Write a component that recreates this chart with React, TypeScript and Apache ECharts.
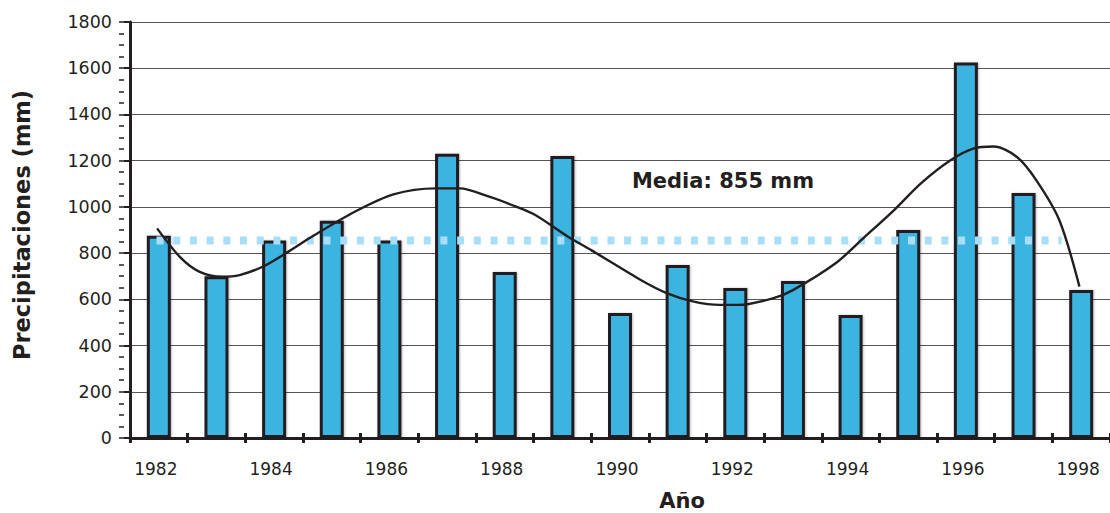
import React, { useEffect, useRef } from "react";
import * as echarts from "echarts";

// Annual precipitation, 1982–1998
const YEARS = [
  "1982", "1983", "1984", "1985", "1986", "1987", "1988", "1989", "1990",
  "1991", "1992", "1993", "1994", "1995", "1996", "1997", "1998",
];
const PRECIP = [
  875, 700, 855, 940, 855, 1230, 718, 1220, 541, 749, 649, 679, 532, 900, 1625, 1060, 640,
];
const MEAN = 855;
// span of the mean line, in years
const MEAN_FROM = 1981.96;
const MEAN_TO = 1997.66;
// smoothed trend [year, mm]
const TREND: [number, number][] = [
  [1981.97, 907], [1982.36, 785], [1982.7, 720], [1983.1, 698], [1983.4, 705],
  [1983.8, 741], [1984.2, 799], [1984.7, 878], [1985.4, 979], [1986.07, 1054],
  [1986.8, 1080], [1987.22, 1080], [1987.73, 1044], [1988.2, 1001], [1988.53, 965],
  [1989.1, 871], [1989.5, 813], [1990.36, 684], [1990.82, 626], [1991.28, 590],
  [1991.73, 576], [1992.05, 576], [1992.65, 604], [1993.0, 640], [1993.74, 756],
  [1994.25, 871], [1994.75, 985], [1995.22, 1102], [1995.74, 1203], [1996.14, 1253],
  [1996.48, 1261], [1996.88, 1217], [1997.22, 1116], [1997.62, 943], [1997.97, 655],
];
const Y_MIN = 0;
const Y_MAX = 1800;
const Y_STEP = 200;

const INK = "#231F20";
const BAR_BLUE = "#3BB4DF";
const MEAN_BLUE = "#A9DEF8";
const FONT = "'DejaVu Sans', sans-serif";

// the first category starts half a year before its label
const yearToBand = (y: number) => y - (Number(YEARS[0]) - 0.5);

const GRID_LEFT = 130;
const GRID_TOP = 22;
const GRID_WIDTH = 991;
const GRID_HEIGHT = 416;

export default function App() {
  const ref = useRef<HTMLDivElement>(null);

  useEffect(() => {
    if (!ref.current) return;
    const chart = echarts.init(ref.current, null, { renderer: "svg" });
    chart.setOption({
      animation: false,
      backgroundColor: "#ffffff",
      grid: {
        left: GRID_LEFT,
        top: GRID_TOP,
        width: GRID_WIDTH,
        height: GRID_HEIGHT,
        containLabel: false,
      },
      xAxis: [
        {
          type: "category",
          data: YEARS,
          boundaryGap: true,
          axisLine: { show: true, lineStyle: { color: INK, width: 3 } },
          axisTick: { show: true, interval: 0, length: 5, lineStyle: { color: INK, width: 3 } },
          axisLabel: {
            interval: 1,
            color: INK,
            fontFamily: FONT,
            fontSize: 17,
            margin: 22,
            padding: [0, 6, 0, 0],
          },
          splitLine: { show: false },
        },
        {
          // band boundaries, ticks pointing up into the plot
          type: "value",
          min: 0,
          max: YEARS.length,
          interval: 1,
          position: "top",
          offset: -GRID_HEIGHT,
          axisLine: { show: false },
          axisTick: { show: true, length: 5, lineStyle: { color: INK, width: 3 } },
          axisLabel: { show: false },
          splitLine: { show: false },
        },
      ],
      yAxis: [
        {
          type: "value",
          min: Y_MIN,
          max: Y_MAX,
          interval: Y_STEP,
          axisLine: { show: true, lineStyle: { color: INK, width: 3 } },
          axisTick: { show: true, length: 6, lineStyle: { color: INK, width: 2 } },
          axisLabel: {
            color: INK,
            fontFamily: FONT,
            fontSize: 17.5,
            margin: 18,
            formatter: (v: number) => String(v),
          },
          splitLine: { show: true, lineStyle: { color: "#555555", width: 1 } },
        },
        {
          // minor ticks on the inner side of the left axis
          type: "value",
          min: Y_MIN,
          max: Y_MAX,
          interval: Y_STEP / 4,
          position: "right",
          offset: -GRID_WIDTH,
          axisLine: { show: false },
          axisTick: { show: true, length: 5, lineStyle: { color: INK, width: 1.5 } },
          axisLabel: { show: false },
          splitLine: { show: false },
        },
      ],
      series: [
        {
          type: "bar",
          xAxisIndex: 0,
          yAxisIndex: 0,
          data: PRECIP,
          barWidth: 24,
          itemStyle: {
            color: BAR_BLUE,
            borderColor: INK,
            borderWidth: 3,
            shadowColor: "rgba(0,0,0,0.25)",
            shadowBlur: 2,
            shadowOffsetX: 1,
          },
          z: 2,
        },
        {
          type: "line",
          xAxisIndex: 1,
          yAxisIndex: 0,
          data: [
            [yearToBand(MEAN_FROM), MEAN],
            [yearToBand(MEAN_TO), MEAN],
          ],
          symbol: "none",
          lineStyle: { color: MEAN_BLUE, width: 8, type: [7, 9.7], cap: "butt" },
          z: 3,
        },
        {
          type: "line",
          xAxisIndex: 1,
          yAxisIndex: 0,
          data: TREND.map(([y, v]) => [yearToBand(y), v]),
          symbol: "none",
          smooth: 0.3,
          lineStyle: { color: INK, width: 2.4 },
          z: 4,
        },
      ],
      graphic: [
        {
          type: "text",
          x: 723,
          y: 181,
          style: {
            text: `Media: ${MEAN} mm`,
            fill: INK,
            font: `bold 21px ${FONT}`,
            align: "center",
            verticalAlign: "middle",
          },
          z: 10,
        },
        {
          type: "text",
          x: 22,
          y: 225,
          rotation: Math.PI / 2,
          style: {
            text: "Precipitaciones (mm)",
            fill: INK,
            font: `bold 22.5px ${FONT}`,
            align: "center",
            verticalAlign: "middle",
          },
          z: 10,
        },
        {
          type: "text",
          x: 682,
          y: 501,
          style: {
            text: "Año",
            fill: INK,
            font: `bold 21px ${FONT}`,
            align: "center",
            verticalAlign: "middle",
          },
          z: 10,
        },
      ],
    });
    return () => chart.dispose();
  }, []);

  return (
    <div
      ref={ref}
      style={{ position: "fixed", left: 0, top: 0, width: 1110, height: 513 }}
    />
  );
}
